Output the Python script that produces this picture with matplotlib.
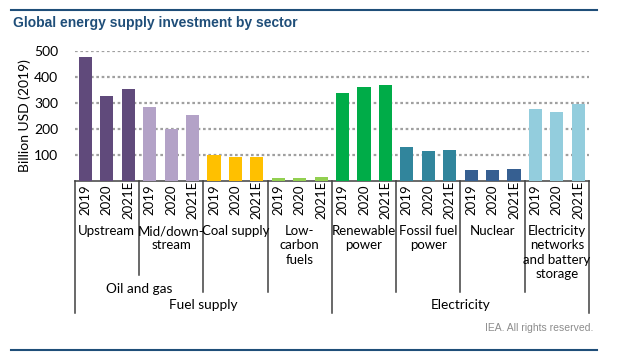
import matplotlib
matplotlib.use("Agg")
import matplotlib.pyplot as plt
from matplotlib.lines import Line2D

# data (billion USD 2019)
sectors = ["Upstream", "Mid/down-\nstream", "Coal supply", "Low-\ncarbon\nfuels",
           "Renewable\npower", "Fossil fuel\npower", "Nuclear",
           "Electricity\nnetworks\nand battery\nstorage"]
years = ["2019", "2020", "2021E"]
values = [
    [475, 326, 352],   # Upstream
    [283, 200, 253],   # Mid/downstream
    [99, 91, 91],      # Coal supply
    [10, 10, 13],      # Low-carbon fuels
    [337, 360, 368],   # Renewable power
    [130, 114, 118],   # Fossil fuel power
    [41, 41, 45],      # Nuclear
    [276, 264, 295],   # Networks and storage
]
colors = ["#604a7b", "#b3a2c7", "#ffc000", "#92d050",
          "#00ac48", "#31859c", "#365f91", "#93cddd"]
yticks = [100, 200, 300, 400, 500]

W, H = 619, 353
FONT = "Lato"
AX_LEFT, AX_RIGHT, AX_BOTTOM, AX_TOP = 74.7, 589, 180.7, 50.7

fig = plt.figure(figsize=(W / 100, H / 100), dpi=100)
ax = fig.add_axes([AX_LEFT / W, 1 - AX_BOTTOM / H,
                   (AX_RIGHT - AX_LEFT) / W, (AX_BOTTOM - AX_TOP) / H])


def fy(py):
    """pixel row -> axes fraction"""
    return (AX_BOTTOM - py) / (AX_BOTTOM - AX_TOP)


n = len(years)
for i, (vals, c) in enumerate(zip(values, colors)):
    xs = [i * n + j for j in range(n)]
    ax.bar(xs, vals, width=0.61, color=c, zorder=3)

ax.set_xlim(-0.5, len(sectors) * n - 0.5)
ax.set_ylim(0, 500)
ax.set_yticks(yticks)
ax.set_yticklabels([str(t) for t in yticks], fontsize=10, family=FONT)
ax.tick_params(axis="y", length=0, pad=12)
ax.set_xticks([])
for s in ax.spines.values():
    s.set_visible(False)
ax.yaxis.grid(True, linestyle=(0, (1.2, 1.2)), color="#a0a0a0", linewidth=1.6, zorder=0)
ax.set_ylabel("Billion USD (2019)", fontsize=10, family=FONT, labelpad=2)

tr = ax.get_xaxis_transform()
xmin, xmax = ax.get_xlim()

# table-like category axis
ax.add_line(Line2D([xmin, xmax], [0, 0], transform=tr, color="#404040", lw=1.1, clip_on=False))
seps = {-0.5: 313, 2.5: 275, 5.5: 291.7, 8.5: 291.7, 11.5: 313,
        14.5: 291.7, 17.5: 291.7, 20.5: 291.7, 23.5: 313}
for x, bottom in seps.items():
    ax.add_line(Line2D([x, x], [0, fy(bottom)], transform=tr, color="#404040",
                       lw=1.1, clip_on=False))

for i, name in enumerate(sectors):
    for j, yr in enumerate(years):
        ax.text(i * n + j, fy(200), yr, transform=tr, rotation=90, ha="center",
                va="center", fontsize=9.5, family=FONT)
    ax.text(i * n + 1, fy(225), name, transform=tr, ha="center", va="top",
            fontsize=9.5, family=FONT, linespacing=1.24)

ax.text(2.5, fy(289), "Oil and gas", transform=tr, ha="center", va="center",
        fontsize=9.8, family=FONT)
ax.text(5.5, fy(305), "Fuel supply", transform=tr, ha="center", va="center",
        fontsize=9.8, family=FONT)
ax.text(17.5, fy(305), "Electricity", transform=tr, ha="center", va="center",
        fontsize=9.8, family=FONT)

# frame lines, title and credit
fig.add_artist(Line2D([11 / W, 597 / W], [1 - 10 / H, 1 - 10 / H], color="#1f4e79", lw=1.5))
fig.add_artist(Line2D([11 / W, 597 / W], [1 - 350 / H, 1 - 350 / H], color="#1f4e79", lw=1.5))
fig.text(13 / W, 1 - 23 / H, "Global energy supply investment by sector", ha="left",
         va="center", fontsize=10, fontweight="bold", color="#1f4e79",
         family="Liberation Sans")
fig.text(593 / W, 1 - 328 / H, "IEA. All rights reserved.", ha="right", va="center",
         fontsize=7.5, color="#8c8c8c", family="Liberation Sans")

fig.savefig("out.png", dpi=100)
